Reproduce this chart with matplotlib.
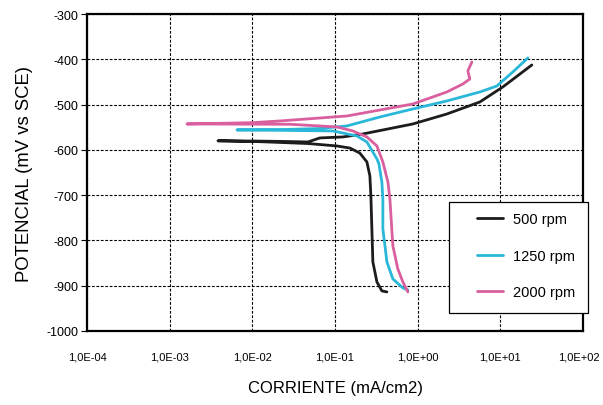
import numpy as np
import matplotlib.pyplot as plt
from matplotlib.patches import Rectangle
from matplotlib.ticker import FuncFormatter
from matplotlib.transforms import ScaledTranslation

plt.rcParams['font.family'] = ['Liberation Sans', 'DejaVu Sans']
plt.rcParams['axes.unicode_minus'] = False

# curvas de polarizacion: log10(i) [mA/cm2] y potencial [mV vs SCE]
# rama catodica (de abajo hacia Ecorr) + rama anodica (desde Ecorr)
log_i_500 = [-0.372, -0.433, -0.493, -0.542, -0.554, -0.566, -0.578, -0.614, -0.700,
             -0.820, -0.977, -1.33, -1.9, -2.416,
             -2.0, -1.6, -1.328, -1.183, -0.904, -0.663, -0.058, 0.353, 0.752, 1.030, 1.381]
e_500 = [-913.7, -911.5, -891.6, -847.5, -774.6, -701.8, -657.6, -626.7, -607,
         -596, -591.4, -586, -582, -580,
         -580.5, -581.5, -582.6, -573.7, -571.5, -564.9, -542.8, -520.8, -494.3, -461.1, -412.6]

log_i_1250 = [-0.119, -0.179, -0.300, -0.372, -0.421, -0.421, -0.433, -0.47, -0.493, -0.614,
              -0.735, -1.025, -1.6, -2.186,
              -1.6, -1.2, -0.856, -0.457, -0.058, 0.353, 0.752, 0.958, 1.151, 1.333]
e_1250 = [-909.3, -904.9, -885, -847.5, -774.6, -708.4, -670.9, -630, -620, -582.6,
          -569.3, -558.3, -557, -556,
          -555, -553, -547.2, -527.4, -509.7, -492, -472.2, -459, -428, -397]

log_i_2000 = [-0.119, -0.179, -0.240, -0.300, -0.336, -0.360, -0.421, -0.493, -0.614,
              -0.784, -0.977, -1.545, -2.791,
              -2.0, -1.666, -0.856, -0.058, 0.353, 0.547, 0.631, 0.607, 0.656]
e_2000 = [-913.7, -891.6, -863, -812, -708.4, -670.9, -626.7, -591.4, -571.5,
          -558.3, -549.4, -543.5, -542.8,
          -540, -536.2, -525.2, -498.7, -472.2, -454.5, -443.5, -425.8, -406]

etiquetas = ['500 rpm', '1250 rpm', '2000 rpm']
colores = ['#1c1c1c', '#2ab7d9', '#d95f9e']

W, H = 603, 406
fig = plt.figure(figsize=(W / 100, H / 100), dpi=100)
ax = fig.add_axes([87 / W, 1 - 332 / H, 496 / W, 317 / H])

series = [(log_i_500, e_500), (log_i_1250, e_1250), (log_i_2000, e_2000)]
lineas = []
for (li, e), lab, col in zip(series, etiquetas, colores):
    l, = ax.plot(np.power(10.0, li), e, color=col, lw=2.0, label=lab, solid_capstyle='round')
    lineas.append(l)

ax.set_xscale('log')
ax.set_xlim(1e-4, 1e2)
ax.set_ylim(-1000, -300)
ax.set_xticks([1e-4, 1e-3, 1e-2, 1e-1, 1e0, 1e1, 1e2])
ax.xaxis.set_minor_locator(plt.NullLocator())
ax.set_yticks(np.arange(-1000, -299, 100))
ax.xaxis.set_major_formatter(FuncFormatter(
    lambda v, p: ('%.1E' % v).replace('.', ',')))

ax.grid(True, color='black', linestyle=(0, (2.5, 1.5)), linewidth=0.8)
for s in ax.spines.values():
    s.set_linewidth(1.6)

ax.tick_params(axis='x', length=0, pad=15, labelsize=8)
ax.tick_params(axis='y', length=4, width=0.8, pad=2, labelsize=9)

# la ultima etiqueta del eje x queda algo corrida a la izquierda
ult = ax.get_xticklabels()[-1]
ult.set_transform(ult.get_transform() + ScaledTranslation(-0.045, 0, fig.dpi_scale_trans))

ax.set_xlabel('CORRIENTE (mA/cm2)', fontsize=12, labelpad=13)
ax.set_ylabel('POTENCIAL (mV vs SCE)', fontsize=13.3, labelpad=10)

# recuadro de la leyenda (sobresale un poco del eje derecho)
marco = Rectangle((449 / W, 1 - 314 / H), 139 / W, 111 / H, transform=fig.transFigure,
                  facecolor='white', edgecolor='black', lw=0.9, zorder=4)
fig.patches.append(marco)

fig.legend(handles=lineas, labels=etiquetas, loc='upper left',
           bbox_to_anchor=(477 / W, 1 - 213 / H), bbox_transform=fig.transFigure,
           frameon=False, fontsize=10.5, handlelength=1.75, handletextpad=0.75,
           labelspacing=1.55, borderpad=0, borderaxespad=0)

fig.savefig('out.png', dpi=100)
